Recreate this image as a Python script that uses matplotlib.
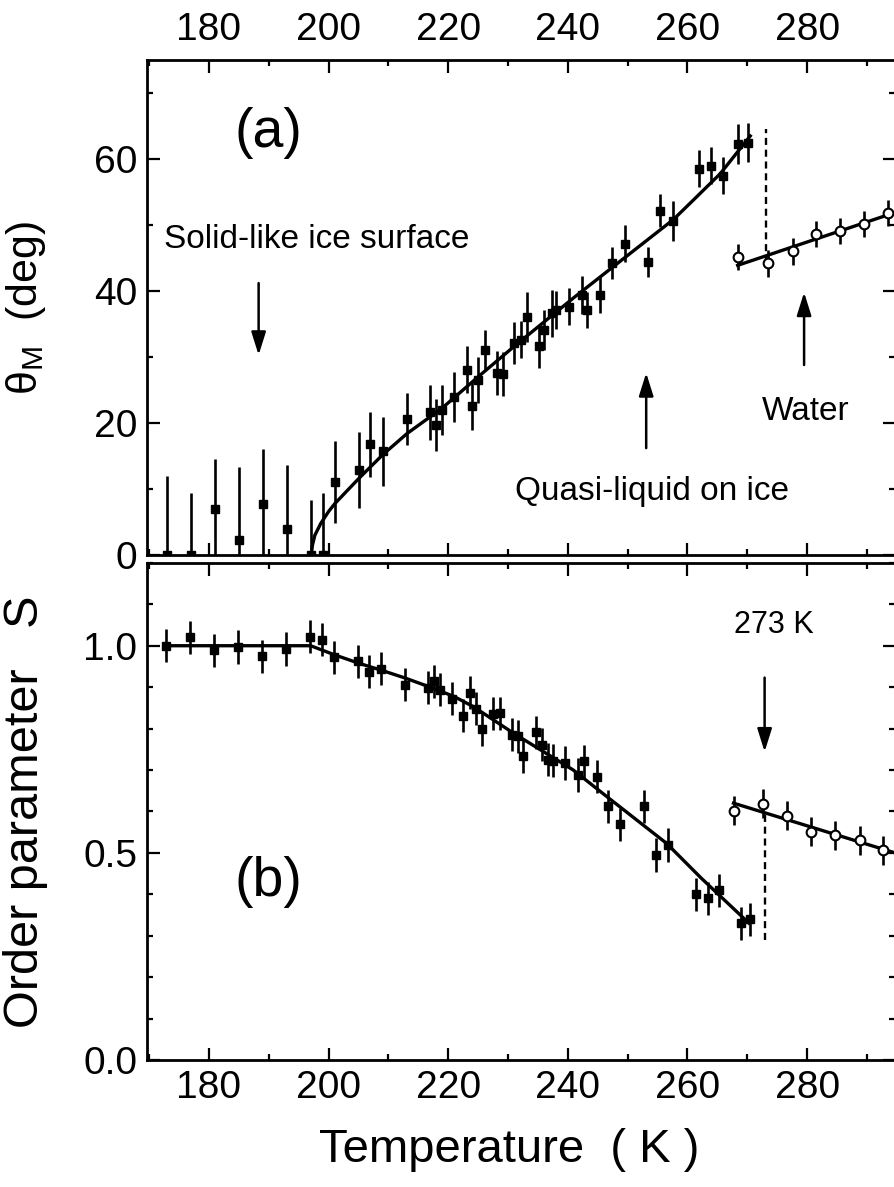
import matplotlib
matplotlib.use("Agg")
import matplotlib.pyplot as plt
from matplotlib.ticker import MultipleLocator, FormatStrFormatter

plt.rcParams['font.family'] = ['Liberation Sans', 'DejaVu Sans']
plt.rcParams['mathtext.fontset'] = 'custom'
plt.rcParams['mathtext.rm'] = 'Liberation Sans'
plt.rcParams['mathtext.it'] = 'Liberation Sans:italic'

# ---------------- data: panel (a) ----------------
ice_T_a = [173.0, 177.0, 181.0, 185.05, 189.1, 193.0, 197.1, 199.1, 201.05, 205.05,
           207.0, 209.05, 213.1, 217.0, 218.0, 218.9, 220.9, 223.1, 224.0, 225.05,
           226.2, 228.1, 229.1, 231.05, 232.1, 233.1, 235.2, 236.05, 237.3, 238.1,
           240.2, 242.3, 243.2, 245.3, 247.3, 249.5, 253.4, 255.4, 257.6, 262.0,
           264.0, 266.0, 268.5, 270.2]
ice_theta = [0.0, 0.0, 7.0, 2.3, 7.8, 4.0, 0.0, 0.0, 11.1, 12.9,
             16.8, 15.7, 20.6, 21.6, 19.7, 22.0, 24.0, 28.1, 22.6, 26.5,
             31.1, 27.6, 27.4, 32.1, 32.6, 36.1, 31.6, 34.1, 36.6, 37.1,
             37.6, 39.4, 37.1, 39.4, 44.3, 47.2, 44.4, 52.2, 50.6, 58.5,
             59.0, 57.5, 62.3, 62.5]
ice_theta_err = [12.0, 9.4, 7.5, 11.0, 8.3, 9.6, 8.3, 9.4, 6.2, 5.7,
                 4.9, 5.2, 4.0, 4.2, 3.9, 3.8, 3.8, 3.5, 3.7, 3.5,
                 3.0, 3.3, 3.3, 3.2, 2.8, 3.8, 3.2, 3.0, 3.5, 2.9,
                 2.8, 2.9, 2.7, 2.7, 2.4, 2.8, 2.3, 2.5, 3.0, 2.8,
                 2.8, 2.8, 3.0, 3.0]
water_T_a = [268.4, 273.5, 277.6, 281.5, 285.5, 289.5, 293.6]
water_theta = [45.2, 44.2, 46.0, 48.6, 49.1, 50.2, 51.8]
water_theta_err = [2.0, 2.0, 2.0, 2.0, 2.0, 2.0, 2.0]

fit_ice_T_a = [197.1, 197.3, 197.7, 198.7, 200.0, 201.05, 205.05, 209.05, 213.1,
               218.9, 225.0, 231.0, 241.0, 247.6, 257.6, 261.0, 265.5, 270.5]
fit_ice_theta = [0.0, 1.5, 3.0, 4.8, 6.6, 7.8, 11.6, 15.2, 18.4,
                 22.2, 27.0, 31.6, 39.0, 43.7, 50.8, 53.8, 57.8, 63.5]
fit_water_T_a = [268.4, 294.7]
fit_water_theta = [43.9, 51.9]

# ---------------- data: panel (b) ----------------
ice_T_b = [172.8, 176.9, 180.9, 184.9, 188.9, 192.8, 196.9, 198.95, 200.9, 204.9,
           206.8, 208.8, 212.8, 216.55, 217.7, 218.7, 220.7, 222.55, 223.7, 224.7,
           225.6, 227.55, 228.7, 230.6, 231.7, 232.55, 234.7, 235.7, 236.7, 237.55,
           239.6, 241.7, 242.7, 244.8, 246.7, 248.7, 252.7, 254.8, 256.8, 261.5,
           263.5, 265.3, 269.0, 270.5]
ice_S = [1.0, 1.02, 0.989, 0.997, 0.974, 0.992, 1.022, 1.014, 0.972, 0.962,
         0.937, 0.944, 0.906, 0.899, 0.914, 0.894, 0.872, 0.831, 0.887, 0.848,
         0.799, 0.836, 0.837, 0.785, 0.781, 0.733, 0.791, 0.761, 0.725, 0.722,
         0.717, 0.688, 0.721, 0.684, 0.612, 0.569, 0.612, 0.495, 0.519, 0.40,
         0.39, 0.41, 0.33, 0.34]
ice_S_err = [0.04] * len(ice_S)
water_T_b = [267.7, 272.7, 276.7, 280.7, 284.7, 288.8, 292.7]
water_S = [0.602, 0.618, 0.590, 0.551, 0.543, 0.531, 0.506]
water_S_err = [0.035] * len(water_S)

fit_ice_T_b = [172.8, 197.0, 201.0, 205.0, 209.0, 212.8, 216.6, 220.9, 224.2,
               230.9, 240.9, 246.5, 256.5, 262.3, 270.3]
fit_ice_S = [1.0, 1.0, 0.978, 0.958, 0.94, 0.922, 0.902, 0.878, 0.853,
             0.789, 0.70, 0.636, 0.523, 0.439, 0.33]
fit_water_T_b = [267.7, 294.7]
fit_water_S = [0.62, 0.50]

x_ticks = [180, 200, 220, 240, 260, 280]

# ---------------- figure ----------------
fig = plt.figure(figsize=(8.95, 11.87), dpi=100)
ax1 = fig.add_axes([0.164, 0.5324, 0.836, 0.417])
ax2 = fig.add_axes([0.164, 0.107, 0.836, 0.4188])

XLIM = (169.6, 294.7)
eb_kw = dict(color='black', ecolor='black', elinewidth=1.9, capsize=0, linestyle='none')

# panel (a)
ax1.errorbar(ice_T_a, ice_theta, yerr=ice_theta_err, fmt='s', ms=6, **eb_kw)
ax1.errorbar(water_T_a, water_theta, yerr=water_theta_err, fmt='o', ms=7,
             mfc='white', mec='black', mew=1.5, **eb_kw)
ax1.plot(fit_ice_T_a, fit_ice_theta, color='black', lw=2.4)
ax1.plot(fit_water_T_a, fit_water_theta, color='black', lw=2.4)
ax1.plot([273.2, 273.2], [44.3, 64.5], color='black', lw=1.7, ls=(0, (3, 2)))
ax1.set_xlim(*XLIM)
ax1.set_ylim(0, 75)
ax1.set_ylabel('θ$_{\\rm M}$  (deg)', fontsize=31)

# panel (b)
ax2.errorbar(ice_T_b, ice_S, yerr=ice_S_err, fmt='s', ms=6, **eb_kw)
ax2.errorbar(water_T_b, water_S, yerr=water_S_err, fmt='o', ms=7,
             mfc='white', mec='black', mew=1.5, **eb_kw)
ax2.plot(fit_ice_T_b, fit_ice_S, color='black', lw=2.4)
ax2.plot(fit_water_T_b, fit_water_S, color='black', lw=2.4)
ax2.plot([273.0, 273.0], [0.29, 0.60], color='black', lw=1.7, ls=(0, (3, 2)))
ax2.set_xlim(*XLIM)
ax2.set_ylim(0, 1.2)
ax2.set_ylabel('Order parameter   S', fontsize=35)
ax2.set_xlabel('Temperature  ( K )', fontsize=34)

for ax in (ax1, ax2):
    ax.set_xticks(x_ticks)
    ax.xaxis.set_minor_locator(MultipleLocator(10))
    ax.tick_params(which='both', direction='in', top=True, right=True, width=1.6,
                   labelsize=28, pad=7)
    ax.tick_params(which='major', length=9)
    ax.tick_params(which='minor', length=4)
    for s in ax.spines.values():
        s.set_linewidth(2.0)
    ax.yaxis.set_label_coords(-0.132, 0.5)

ax1.yaxis.set_major_locator(MultipleLocator(20))
ax1.yaxis.set_minor_locator(MultipleLocator(10))
ax2.yaxis.set_major_locator(MultipleLocator(0.5))
ax2.yaxis.set_minor_locator(MultipleLocator(0.1))
ax2.yaxis.set_major_formatter(FormatStrFormatter('%.1f'))
ax1.tick_params(axis='x', labeltop=True, labelbottom=False, pad=9)
ax2.xaxis.set_label_coords(0.484, -0.181)
ax2.xaxis.label.set_va('center')

# annotations
arr = dict(arrowstyle='-|>,head_length=0.7,head_width=0.22', color='black', lw=1.8,
           mutation_scale=20, shrinkA=0, shrinkB=0)
ax1.text(190.0, 64.0, '(a)', fontsize=40, ha='center', va='center')
ax1.text(172.5, 46.5, 'Solid-like ice surface', fontsize=24, ha='left', va='baseline')
ax1.annotate('', xy=(188.3, 30.3), xytext=(188.3, 41.2), arrowprops=arr)
ax1.text(254.0, 9.6, 'Quasi-liquid on ice', fontsize=24, ha='center', va='center')
ax1.annotate('', xy=(253.1, 27.6), xytext=(253.1, 16.2), arrowprops=arr)
ax1.text(279.8, 21.8, 'Water', fontsize=24, ha='center', va='center')
ax1.annotate('', xy=(279.5, 39.8), xytext=(279.5, 28.8), arrowprops=arr)

ax2.text(190.0, 0.43, '(b)', fontsize=40, ha='center', va='center')
ax2.text(274.5, 1.05, '273 K', fontsize=22, ha='center', va='center')
ax2.annotate('', xy=(272.9, 0.744), xytext=(272.9, 0.923), arrowprops=arr)

fig.savefig('out.png', dpi=100)
